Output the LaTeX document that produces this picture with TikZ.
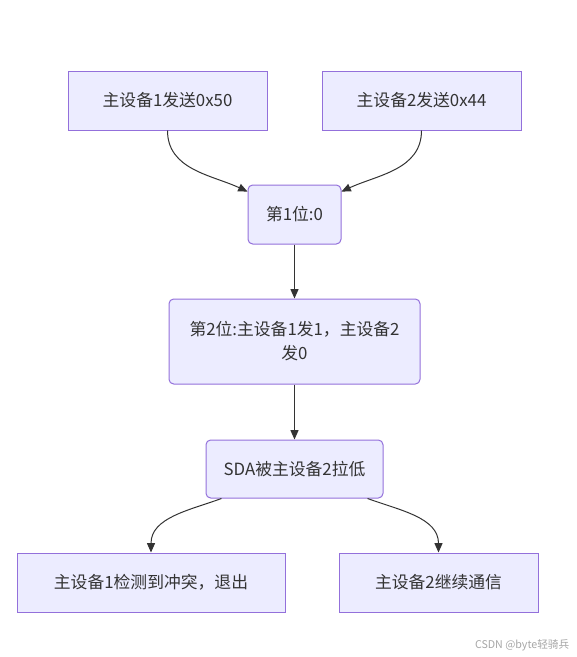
\documentclass[tikz,border=0pt]{standalone}
\usepackage{fontspec}
\setmainfont{Noto Sans CJK SC}
\usetikzlibrary{arrows.meta}
\definecolor{vulling}{HTML}{ECECFF}
\definecolor{rand}{HTML}{9370DB}
\definecolor{inkt}{HTML}{333333}
\begin{document}
\begin{tikzpicture}[
	x=0.75pt, y=-0.75pt,
	blok/.style={draw=rand, fill=vulling, line width=0.75pt, text=inkt, font=\fontsize{12.6}{18}\selectfont, inner sep=0pt, align=center},
	hoekig/.style={blok},
	rond/.style={blok, rounded corners=3.5pt},
	pijl/.style={draw=inkt, line width=0.75pt, -{Triangle[length=7pt,width=6pt]}},
	merk/.style={text=black!35, font=\fontsize{8}{10}\selectfont, anchor=east},
	]
	\useasboundingbox (0,0) rectangle (577,657);
	
	%% =========================================================
	%% blokken
	%% =========================================================
	\node[hoekig, minimum width=199*0.75pt, minimum height=59*0.75pt] (zend1) at (167.5,100.5) {主设备1发送0x50};
	\node[hoekig, minimum width=199*0.75pt, minimum height=59*0.75pt] (zend2) at (421.5,100.5) {主设备2发送0x44};
	\node[rond, minimum width=93*0.75pt, minimum height=59*0.75pt] (bit1) at (294.5,214.5) {第1位:0};
	\node[rond, minimum width=251*0.75pt, minimum height=85*0.75pt] (bit2) at (294.5,341.5) {第2位:主设备1发1，主设备2\\发0};
	\node[rond, minimum width=177*0.75pt, minimum height=58*0.75pt] (sda) at (294.5,469) {SDA被主设备2拉低};
	\node[hoekig, minimum width=268*0.75pt, minimum height=59*0.75pt] (stop1) at (151,582.5) {主设备1检测到冲突，退出};
	\node[hoekig, minimum width=199*0.75pt, minimum height=59*0.75pt] (verder2) at (438.5,582.5) {主设备2继续通信};
	
	%% =========================================================
	%% verbindingen
	%% =========================================================
	\draw[pijl] (zend1.south) to[out=-90, in=155] (bit1.154);
	\draw[pijl] (zend2.south) to[out=-90, in=25] (bit1.26);
	\draw[pijl] (bit1.south) -- (bit2.north);
	\draw[pijl] (bit2.south) -- (sda.north);
	\draw[pijl] (sda.202) to[out=200, in=90] (stop1.north);
	\draw[pijl] (sda.-22) to[out=-20, in=90] (verder2.north);
	
	%% watermerk
	\node[merk] (wm) at (574,645) {CSDN @byte轻骑兵};
	
\end{tikzpicture}
\end{document}
